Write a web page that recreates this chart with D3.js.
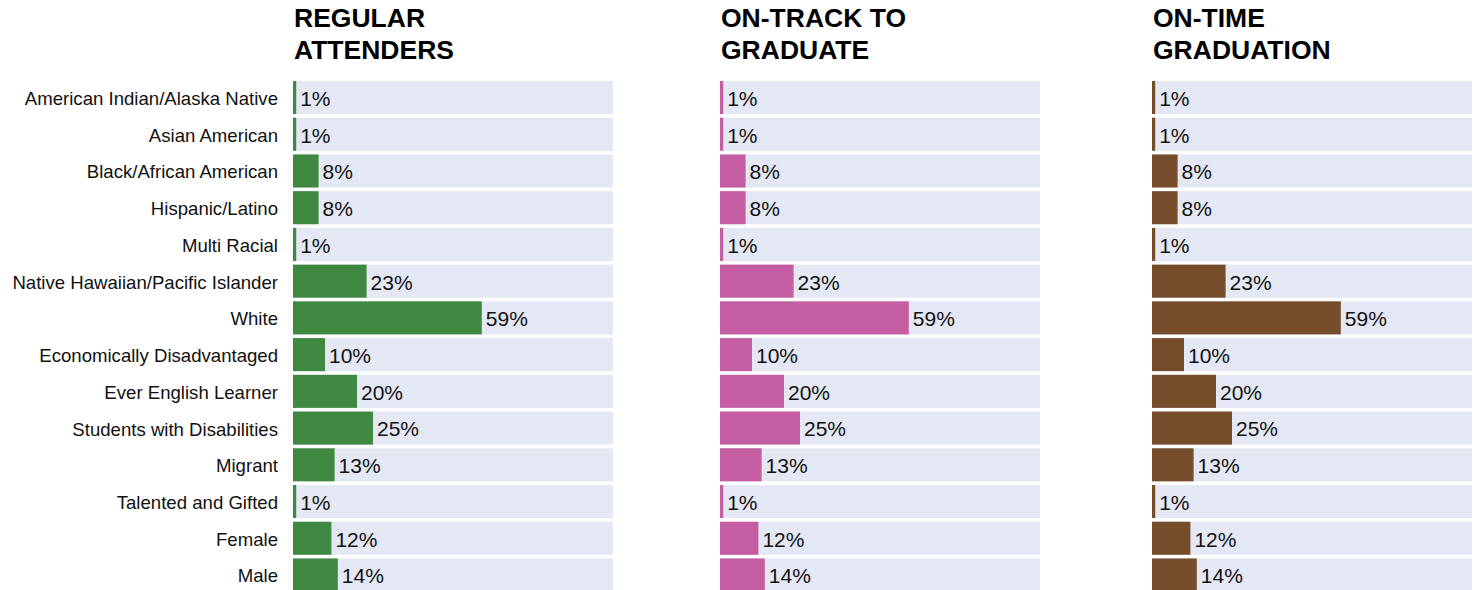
<!DOCTYPE html>
<html>
<head>
<meta charset="utf-8">
<script src="https://cdn.jsdelivr.net/npm/d3@7"></script>
<style>
  body { margin: 0; background: #fff; font-family: "Liberation Sans", Arial, sans-serif; }
  svg { display: block; }
</style>
</head>
<body>
<div id="chart"></div>
<script>
const categories = [
  "American Indian/Alaska Native",
  "Asian American",
  "Black/African American",
  "Hispanic/Latino",
  "Multi Racial",
  "Native Hawaiian/Pacific Islander",
  "White",
  "Economically Disadvantaged",
  "Ever English Learner",
  "Students with Disabilities",
  "Migrant",
  "Talented and Gifted",
  "Female",
  "Male",
];

const regularAttenders = [1, 1, 8, 8, 1, 23, 59, 10, 20, 25, 13, 1, 12, 14];
const onTrack = [1, 1, 8, 8, 1, 23, 59, 10, 20, 25, 13, 1, 12, 14];
const onTime = [1, 1, 8, 8, 1, 23, 59, 10, 20, 25, 13, 1, 12, 14];

const panelTitles = [
  ["REGULAR", "ATTENDERS"],
  ["ON-TRACK TO", "GRADUATE"],
  ["ON-TIME", "GRADUATION"],
];
const panelColors = ["#3f8841", "#c45da2", "#754d2b"];
const panelValues = [regularAttenders, onTrack, onTime];

const width = 1477;
const height = 590;
const panelX = [293, 720, 1152];
const panelWidth = 320;

const svg = d3
  .select("#chart")
  .append("svg")
  .attr("width", width)
  .attr("height", height);

const y = d3.scaleBand().domain(categories).range([81, 591.5]).paddingInner(0.1);
const x = d3.scaleLinear().domain([0, 100]).range([0, panelWidth]);

// category labels on the left
svg
  .append("g")
  .selectAll("text")
  .data(categories)
  .enter()
  .append("text")
  .attr("x", 278)
  .attr("y", (d) => y(d) + y.bandwidth() / 2 + 1)
  .attr("dy", "0.35em")
  .attr("text-anchor", "end")
  .attr("font-size", 18.6)
  .attr("fill", "#111")
  .text((d) => d);

panelValues.forEach((values, i) => {
  const g = svg.append("g").attr("transform", `translate(${panelX[i]},0)`);
  const rows = categories.map((c, j) => ({ cat: c, value: values[j] }));

  // title
  g.append("text")
    .attr("font-size", 26.5)
    .attr("font-weight", "bold")
    .attr("fill", "#000")
    .selectAll("tspan")
    .data(panelTitles[i])
    .enter()
    .append("tspan")
    .attr("x", 1)
    .attr("y", (d, k) => 27 + k * 31.5)
    .text((d) => d);

  // background track
  g.selectAll("rect.bg")
    .data(rows)
    .enter()
    .append("rect")
    .attr("class", "bg")
    .attr("x", x(0))
    .attr("y", (d) => y(d.cat))
    .attr("width", x(100) - x(0))
    .attr("height", y.bandwidth())
    .attr("fill", "#e4e8f4");

  g.selectAll("rect.bar")
    .data(rows)
    .enter()
    .append("rect")
    .attr("class", "bar")
    .attr("x", x(0))
    .attr("y", (d) => y(d.cat))
    .attr("width", (d) => x(d.value) - x(0))
    .attr("height", y.bandwidth())
    .attr("fill", panelColors[i]);

  g.selectAll("text.val")
    .data(rows)
    .enter()
    .append("text")
    .attr("class", "val")
    .attr("x", (d) => x(d.value) + 4)
    .attr("y", (d) => y(d.cat) + y.bandwidth() / 2 + 1)
    .attr("dy", "0.35em")
    .attr("font-size", 21)
    .attr("fill", "#111")
    .text((d) => d.value + "%");
});
</script>
</body>
</html>
